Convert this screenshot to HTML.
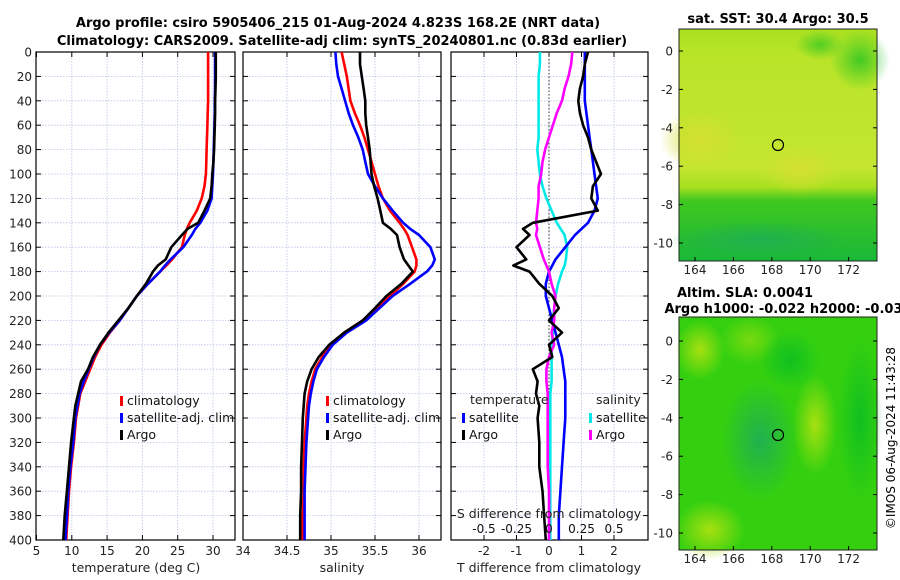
<!DOCTYPE html>
<html><head><meta charset="utf-8">
<style>
body{margin:0;background:#fff;}
svg{display:block;font-family:"DejaVu Sans","Liberation Sans",sans-serif;}
</style></head>
<body>
<svg id="fig" width="900" height="580" viewBox="0 0 900 580" xmlns="http://www.w3.org/2000/svg">
<defs>
<linearGradient id="sstg" x1="0" y1="0" x2="0" y2="1">
<stop offset="0" stop-color="#a8e020"/><stop offset="0.1" stop-color="#b8e428"/><stop offset="0.6" stop-color="#c4e630"/><stop offset="0.68" stop-color="#a8e020"/><stop offset="0.74" stop-color="#40c820"/><stop offset="1" stop-color="#18b838"/>
</linearGradient>
<radialGradient id="slab1" cx="0.5" cy="0.5" r="0.5"><stop offset="0" stop-color="#a8e010"/><stop offset="1" stop-color="#a8e010" stop-opacity="0"/></radialGradient>
<radialGradient id="slab2" cx="0.5" cy="0.5" r="0.5"><stop offset="0" stop-color="#20b050"/><stop offset="1" stop-color="#20b050" stop-opacity="0"/></radialGradient>
<radialGradient id="slab3" cx="0.5" cy="0.5" r="0.5"><stop offset="0" stop-color="#10c020"/><stop offset="1" stop-color="#10c020" stop-opacity="0"/></radialGradient>
<radialGradient id="sstwarm" cx="0.5" cy="0.5" r="0.5"><stop offset="0" stop-color="#d4e030"/><stop offset="1" stop-color="#d4e030" stop-opacity="0"/></radialGradient>
</defs>
<g id="title" font-weight="bold" font-size="13" text-anchor="middle">
<text x="338" y="27">Argo profile: csiro 5905406_215 01-Aug-2024 4.823S 168.2E (NRT data)</text>
<text x="342" y="45">Climatology: CARS2009. Satellite-adj clim: synTS_20240801.nc (0.83d earlier)</text>
</g>
<g id="p1"></g>
<g id="p2"></g>
<g id="p3"></g>
<g id="maps">
<text x="778" y="23" font-size="13" font-weight="bold" text-anchor="middle">sat. SST: 30.4 Argo: 30.5</text>
<g>
<rect x="679" y="29" width="198" height="232" fill="url(#sstg)"/>
<ellipse cx="700" cy="140" rx="40" ry="30" fill="url(#sstwarm)"/>
<ellipse cx="800" cy="170" rx="40" ry="25" fill="url(#sstwarm)"/>
<ellipse cx="860" cy="60" rx="30" ry="30" fill="url(#slab3)" opacity="0.7"/>
<ellipse cx="820" cy="45" rx="25" ry="15" fill="url(#slab3)" opacity="0.6"/>
<ellipse cx="760" cy="240" rx="90" ry="20" fill="url(#slab2)"/>
<circle cx="778" cy="145" r="5.5" fill="none" stroke="#000" stroke-width="1.2"/>
<rect x="679" y="29" width="198" height="232" fill="none" stroke="#222" stroke-width="1"/>
</g>
<text x="745" y="297" font-size="13" font-weight="bold" text-anchor="middle">Altim. SLA: 0.0041</text>
<text x="788" y="313" font-size="13" font-weight="bold" text-anchor="middle">Argo h1000: -0.022 h2000: -0.039</text>
<g>
<rect x="679" y="317" width="198" height="233" fill="#34d010"/>
<ellipse cx="700" cy="350" rx="25" ry="30" fill="url(#slab1)"/>
<ellipse cx="815" cy="425" rx="22" ry="50" fill="url(#slab1)"/>
<ellipse cx="710" cy="530" rx="35" ry="30" fill="url(#slab1)"/>
<ellipse cx="750" cy="340" rx="30" ry="25" fill="url(#slab1)" opacity="0.6"/>
<ellipse cx="760" cy="440" rx="38" ry="60" fill="url(#slab2)"/>
<ellipse cx="860" cy="420" rx="22" ry="80" fill="url(#slab3)"/>
<ellipse cx="790" cy="360" rx="30" ry="30" fill="url(#slab3)"/>
<circle cx="778" cy="435" r="5.5" fill="none" stroke="#000" stroke-width="1.2"/>
<rect x="679" y="317" width="198" height="233" fill="none" stroke="#222" stroke-width="1"/>
</g>
<text transform="translate(895,438) rotate(-90)" font-size="12" text-anchor="middle">©IMOS 06-Aug-2024 11:43:28</text>
</g>
</svg>
<script>
// depth levels (m)
const depths = [0,10,20,30,40,50,60,70,80,90,100,110,120,130,140,145,150,160,170,175,180,190,200,210,220,230,240,250,260,270,280,290,300,320,340,360,380,400];
// temperature (deg C)
const tempClim = [29.3,29.3,29.3,29.3,29.3,29.25,29.2,29.15,29.1,29.05,29.0,28.8,28.4,27.7,26.7,26.3,26.0,25.6,24.2,23.4,22.5,20.8,19.2,18.0,16.8,15.4,14.2,13.3,12.6,11.9,11.2,10.9,10.6,10.3,9.9,9.6,9.4,9.2];
const tempSat = [30.3,30.3,30.3,30.3,30.25,30.25,30.2,30.15,30.1,30.05,30.0,29.9,29.8,29.2,28.2,27.5,27.0,25.8,24.0,23.2,22.5,20.8,19.2,18.0,16.8,15.3,14.0,13.1,12.4,11.7,11.1,10.8,10.5,10.2,9.8,9.5,9.3,9.1];
const tempArgo = [30.4,30.4,30.4,30.35,30.3,30.3,30.25,30.2,30.15,30.05,29.9,29.8,29.6,28.8,27.9,26.4,25.6,24.1,23.3,22.2,21.5,20.5,19.2,18.0,16.6,15.2,14.0,13.0,12.3,11.3,10.9,10.5,10.3,9.9,9.6,9.3,9.0,8.8];
// salinity (psu)
const salClim = [35.12,35.15,35.18,35.2,35.22,35.27,35.33,35.38,35.42,35.46,35.5,35.54,35.59,35.67,35.78,35.83,35.87,35.92,35.97,35.97,35.95,35.82,35.67,35.52,35.36,35.15,35.0,34.9,34.82,34.78,34.75,34.73,34.72,34.7,34.69,34.69,34.68,34.68];
const salSat = [35.05,35.06,35.08,35.12,35.16,35.2,35.25,35.31,35.36,35.39,35.42,35.5,35.59,35.7,35.82,35.9,36.0,36.13,36.18,36.15,36.09,35.9,35.7,35.55,35.4,35.18,35.02,34.92,34.84,34.8,34.77,34.75,34.74,34.72,34.71,34.7,34.7,34.7];
const salArgo = [35.33,35.33,35.35,35.37,35.39,35.39,35.4,35.42,35.44,35.45,35.46,35.49,35.53,35.56,35.59,35.68,35.75,35.78,35.83,35.88,35.93,35.8,35.63,35.5,35.36,35.15,34.98,34.86,34.78,34.73,34.7,34.69,34.68,34.67,34.66,34.66,34.65,34.65];
// differences from climatology
const tDiffSat = [1.1,1.1,1.1,1.1,1.1,1.15,1.2,1.25,1.3,1.35,1.4,1.45,1.5,1.4,1.2,1.0,0.8,0.5,0.2,0.1,0.0,-0.1,-0.1,0.0,0.1,0.2,0.3,0.4,0.45,0.5,0.5,0.5,0.5,0.45,0.4,0.35,0.3,0.3];
const tDiffArgo = [1.2,1.1,1.05,0.95,0.9,0.95,1.05,1.2,1.3,1.45,1.6,1.35,1.3,1.5,-0.5,-0.8,-0.6,-1.0,-0.7,-1.1,-0.6,-0.3,0.1,0.3,0.0,0.4,0.0,0.1,-0.5,-0.35,-0.4,-0.3,-0.35,-0.3,-0.3,-0.2,-0.15,-0.1];
const sDiffSat = [-0.07,-0.07,-0.08,-0.08,-0.08,-0.08,-0.08,-0.08,-0.09,-0.08,-0.07,-0.05,-0.02,0.02,0.06,0.09,0.12,0.14,0.13,0.12,0.1,0.07,0.05,0.04,0.03,0.03,0.02,0.02,0.02,0.02,0.01,0.01,0.01,0.01,0.01,0.01,0.01,0.01];
const sDiffArgo = [0.18,0.17,0.15,0.12,0.1,0.06,0.03,0.0,-0.03,-0.05,-0.06,-0.08,-0.08,-0.09,-0.1,-0.09,-0.1,-0.07,-0.04,-0.02,0.0,0.02,0.05,0.04,0.04,0.02,0.04,0.0,-0.02,-0.02,-0.01,-0.01,-0.01,-0.01,-0.01,0.0,0.0,0.0];
// tick labels
const depthTicks = [0,20,40,60,80,100,120,140,160,180,200,220,240,260,280,300,320,340,360,380,400];
const tempTicks = [5,10,15,20,25,30];
const salTicks = [34,34.5,35,35.5,36];
const tDiffTicks = [-2,-1,0,1,2];
const sDiffTicks = [-0.5,-0.25,0,0.25,0.5];
const latTicks = [0,-2,-4,-6,-8,-10];
const lonTicks = [164,166,168,170,172];

const NS='http://www.w3.org/2000/svg';
const TOP=52, BOT=540;
const yD = d => TOP + d*(BOT-TOP)/400;
const xT = t => 36.5 + (t-5)*7.06;
const xS = s => 243 + (s-34)*88;
const xTD = v => 549 + v*32.5;
const xSD = v => 549 + v*130;

function mk(parent, tag, attrs){const e=document.createElementNS(NS,tag);for(const k in attrs)e.setAttribute(k,attrs[k]);parent.appendChild(e);return e;}

function frame(g, x0, x1, xs, xticks, labelFmt, showDepth){
  depthTicks.forEach(d=>{ if(d>0&&d<400){const l=mk(g,'line',{x1:x0,x2:x1,y1:yD(d),y2:yD(d),stroke:'#b8c4e8','stroke-width':0.8,'stroke-dasharray':'1.5,1.5'});
    
    }
    mk(g,'line',{x1:x0,x2:x0+5,y1:yD(d),y2:yD(d),stroke:'#000'});
    mk(g,'line',{x1:x1-5,x2:x1,y1:yD(d),y2:yD(d),stroke:'#000'});
    if(showDepth){const t=mk(g,'text',{x:x0-4,y:yD(d)+4.5,'font-size':12,'text-anchor':'end',fill:'#222'});t.textContent=d;
      
      }
  });
  xticks.forEach(v=>{const x=xs(v); if(x>x0+1&&x<x1-1){mk(g,'line',{x1:x,x2:x,y1:TOP,y2:BOT,stroke:'#b8c4e8','stroke-width':0.8,'stroke-dasharray':'1.5,1.5'});}
    if(x>=x0-1&&x<=x1+1){mk(g,'line',{x1:x,x2:x,y1:BOT-5,y2:BOT,stroke:'#000'});mk(g,'line',{x1:x,x2:x,y1:TOP,y2:TOP+5,stroke:'#000'});}
    if(labelFmt){const t=mk(g,'text',{x:x,y:555,'font-size':12,'text-anchor':'middle',fill:'#222'});t.textContent=labelFmt(v);
      
      }
  });
  const r=mk(g,'rect',{x:x0,y:TOP,width:x1-x0,height:BOT-TOP,fill:'none',stroke:'#000','stroke-width':1.2});
  
  
}
function line(g, vals, xs, color, name){
  const pts=vals.map((v,i)=>xs(v).toFixed(1)+','+yD(depths[i]).toFixed(1)).join(' ');
  const p=mk(g,'polyline',{points:pts,fill:'none',stroke:color,'stroke-width':2.6,'stroke-linejoin':'round'});
  
  
}
function legend(g,x,y,color,label,name){
  mk(g,'rect',{x:x,y:y-9,width:3,height:10,fill:color});
  const t=mk(g,'text',{x:x+7,y:y,'font-size':12.5,fill:'#111'});t.textContent=label;
  
  
}
function label(g,x,y,txt,name,anchor){const t=mk(g,'text',{x:x,y:y,'font-size':12.5,'text-anchor':anchor||'middle',fill:'#222'});t.textContent=txt;
  
  }

// panel 1
const p1=document.getElementById('p1');
frame(p1,36,235,xT,tempTicks,v=>v,true);
line(p1,tempClim,xT,'#f00','temp-climatology-line');
line(p1,tempSat,xT,'#00f','temp-satellite-line');
line(p1,tempArgo,xT,'#000','temp-argo-line');
label(p1,136,572,'temperature (deg C)','temp-x-axis-title');
legend(p1,120,405,'#f00','climatology','legend-climatology');
legend(p1,120,422,'#00f','satellite-adj. clim','legend-satellite');
legend(p1,120,439,'#000','Argo','legend-argo');

// panel 2
const p2=document.getElementById('p2');
frame(p2,243,441,xS,salTicks,v=>v,false);
line(p2,salClim,xS,'#f00','sal-climatology-line');
line(p2,salSat,xS,'#00f','sal-satellite-line');
line(p2,salArgo,xS,'#000','sal-argo-line');
label(p2,342,572,'salinity','sal-x-axis-title');
legend(p2,326,405,'#f00','climatology','legend-climatology-2');
legend(p2,326,422,'#00f','satellite-adj. clim','legend-satellite-2');
legend(p2,326,439,'#000','Argo','legend-argo-2');

// panel 3
const p3=document.getElementById('p3');
frame(p3,451,648,xTD,tDiffTicks,v=>v,false);
mk(p3,'line',{x1:549,x2:549,y1:TOP,y2:BOT,stroke:'#333','stroke-width':1,'stroke-dasharray':'1.5,2'});
line(p3,sDiffSat,xSD,'#00e8e8','sdiff-satellite-line');
line(p3,tDiffSat,xTD,'#00f','tdiff-satellite-line');
line(p3,sDiffArgo,xSD,'#f0f','sdiff-argo-line');
line(p3,tDiffArgo,xTD,'#000','tdiff-argo-line');
label(p3,549,572,'T difference from climatology','tdiff-x-axis-title');
label(p3,549,518,'S difference from climatology','sdiff-axis-title');
sDiffTicks.forEach(v=>{const t=mk(p3,'text',{x:xSD(v),y:533,'font-size':12,'text-anchor':'middle',fill:'#111'});t.textContent=v;
  
  });
label(p3,470,404,'temperature','legend-temperature-heading','start');
label(p3,596,404,'salinity','legend-salinity-heading','start');
legend(p3,462,422,'#00f','satellite','legend-tdiff-satellite');
legend(p3,462,439,'#000','Argo','legend-tdiff-argo');
legend(p3,589,422,'#00e8e8','satellite','legend-sdiff-satellite');
legend(p3,589,439,'#f0f','Argo','legend-sdiff-argo');

// map axes
const maps=document.getElementById('maps');
function mapAxes(y0,y1,latTop,latPer){
  const lonX=l=>695+(l-164)*19.2;
  latTicks.forEach(l=>{const y=latTop+(-l)*latPer;mk(maps,'line',{x1:679,x2:683,y1:y,y2:y,stroke:'#000'});mk(maps,'line',{x1:873,x2:877,y1:y,y2:y,stroke:'#000'});
    const t=mk(maps,'text',{x:673,y:y+4.5,'font-size':12,'text-anchor':'end',fill:'#222'});t.textContent=l;
    
    });
  lonTicks.forEach(l=>{const x=lonX(l);mk(maps,'line',{x1:x,x2:x,y1:y1-4,y2:y1,stroke:'#000'});
    const t=mk(maps,'text',{x:x,y:y1+13,'font-size':12,'text-anchor':'middle',fill:'#222'});t.textContent=l;
    
    });
}
mapAxes(29,261,51,19.2);
mapAxes(317,550,341,19.2);
</script>
</body></html>
